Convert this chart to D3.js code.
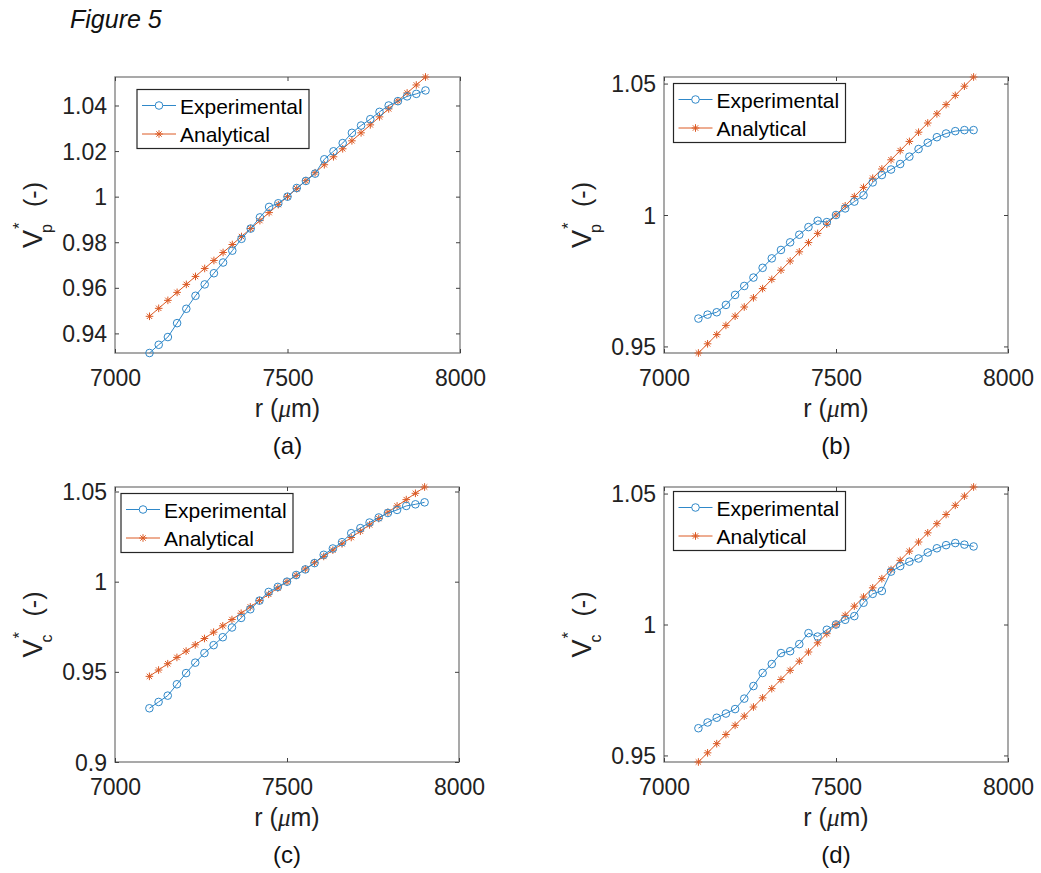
<!DOCTYPE html>
<html>
<head>
<meta charset="utf-8">
<script src="https://cdn.jsdelivr.net/npm/d3@7/dist/d3.min.js"></script>
<style>
body { margin: 0; background: #fff; }
svg { display: block; }
</style>
</head>
<body>
<div id="fig"></div>
<script>
// radial positions (um)
var rValues = [7100, 7126.7, 7153.3, 7180, 7206.7, 7233.3, 7260, 7286.7, 7313.3, 7340,
  7366.7, 7393.3, 7420, 7446.7, 7473.3, 7500, 7526.7, 7553.3, 7580, 7606.7,
  7633.3, 7660, 7686.7, 7713.3, 7740, 7766.7, 7793.3, 7820, 7846.7, 7873.3, 7900];

// analytical curve (same in all four panels)
var analytical = [0.9475, 0.9510, 0.9545, 0.9580, 0.9615, 0.9650, 0.9685, 0.9720, 0.9755, 0.9790,
  0.9825, 0.9860, 0.9895, 0.9930, 0.9965, 1.0000, 1.0035, 1.0070, 1.0105, 1.0140,
  1.0175, 1.0210, 1.0245, 1.0280, 1.0315, 1.0350, 1.0385, 1.0420, 1.0455, 1.0490, 1.0525];

// experimental curves
var expA = [0.9314, 0.9350, 0.9384, 0.9445, 0.9508, 0.9565, 0.9615, 0.9664, 0.9711, 0.9763,
  0.9815, 0.9860, 0.9909, 0.9955, 0.9971, 1.0000, 1.0038, 1.0069, 1.0101, 1.0164,
  1.0199, 1.0235, 1.0280, 1.0312, 1.0340, 1.0372, 1.0400, 1.0419, 1.0440, 1.0451, 1.0466];
var expB = [0.9606, 0.9621, 0.9630, 0.9658, 0.9696, 0.9730, 0.9762, 0.9799, 0.9835, 0.9867,
  0.9896, 0.9925, 0.9954, 0.9978, 0.9973, 1.0000, 1.0025, 1.0051, 1.0075, 1.0124,
  1.0152, 1.0173, 1.0194, 1.0222, 1.0251, 1.0275, 1.0296, 1.0310, 1.0319, 1.0323, 1.0323];
var expC = [0.9298, 0.9333, 0.9368, 0.9431, 0.9493, 0.9551, 0.9604, 0.9648, 0.9692, 0.9746,
  0.9799, 0.9847, 0.9895, 0.9943, 0.9971, 1.0000, 1.0037, 1.0068, 1.0103, 1.0149,
  1.0184, 1.0219, 1.0269, 1.0297, 1.0328, 1.0356, 1.0381, 1.0398, 1.0420, 1.0429, 1.0440];
var expD = [0.9604, 0.9626, 0.9644, 0.9660, 0.9677, 0.9717, 0.9765, 0.9815, 0.9849, 0.9891,
  0.9898, 0.9925, 0.9967, 0.9954, 0.9980, 1.0000, 1.0018, 1.0032, 1.0083, 1.0117,
  1.0128, 1.0202, 1.0223, 1.0240, 1.0252, 1.0275, 1.0291, 1.0303, 1.0311, 1.0305, 1.0298];

var xTicks = [7000, 7500, 8000];
var yTicksA = [0.94, 0.96, 0.98, 1, 1.02, 1.04];
var yTicksB = [0.95, 1, 1.05];
var yTicksC = [0.9, 0.95, 1, 1.05];
var yTicksD = [0.95, 1, 1.05];

var seriesNames = ['Experimental', 'Analytical'];

var blue = '#2f88c9';
var orange = '#dc5a24';
var font = "'Liberation Sans', Arial, Helvetica, sans-serif";

var svg = d3.select('#fig')
    .append('svg')
    .attr('width', 1041)
    .attr('height', 873);

svg.append('text')
    .attr('x', 70)
    .attr('y', 28)
    .style('font-family', font)
    .style('font-style', 'italic')
    .style('font-size', '25px')
    .attr('fill', '#111')
    .text('Figure 5');

var panels = [
  {exp: expA, yDomain: [0.9314, 1.0525], yTicks: yTicksA, sub: 'p', tag: '(a)',
   box: [115, 77, 460, 353], legend: [137, 89.5]},
  {exp: expB, yDomain: [0.9475, 1.0525], yTicks: yTicksB, sub: 'p', tag: '(b)',
   box: [664, 77, 1008, 353], legend: [673.5, 83.5]},
  {exp: expC, yDomain: [0.9, 1.0525], yTicks: yTicksC, sub: 'c', tag: '(c)',
   box: [115, 487, 459, 762], legend: [121, 493.5]},
  {exp: expD, yDomain: [0.9475, 1.0525], yTicks: yTicksD, sub: 'c', tag: '(d)',
   box: [664, 487, 1008, 762], legend: [673.5, 491.5]}
];

function asterisk(s) {
  var d = s * 0.7071;
  return 'M' + (-s) + ',0L' + s + ',0M0,' + (-s) + 'L0,' + s +
    'M' + (-d) + ',' + (-d) + 'L' + d + ',' + d + 'M' + (-d) + ',' + d + 'L' + d + ',' + (-d);
}

var fmt = function(d) { return String(+d.toFixed(3)); };

panels.forEach(function(p) {
  var x0 = p.box[0], y0 = p.box[1], x1 = p.box[2], y1 = p.box[3];
  var x = d3.scaleLinear().domain([7000, 8000]).range([x0, x1]);
  var y = d3.scaleLinear().domain(p.yDomain).range([y1, y0]);
  var g = svg.append('g');

  // box
  g.append('rect')
    .attr('x', x0).attr('y', y0)
    .attr('width', x1 - x0).attr('height', y1 - y0)
    .attr('fill', 'none')
    .attr('stroke', '#858585')
    .attr('stroke-width', 1.4);

  // axes with inward ticks
  var ax = g.append('g').attr('transform', 'translate(0,' + y1 + ')')
    .call(d3.axisBottom(x).tickValues(xTicks).tickSizeInner(-4).tickSizeOuter(0).tickFormat(fmt));
  var axt = g.append('g').attr('transform', 'translate(0,' + y0 + ')')
    .call(d3.axisTop(x).tickValues(xTicks).tickSizeInner(-4).tickSizeOuter(0).tickFormat(''));
  var ay = g.append('g').attr('transform', 'translate(' + x0 + ',0)')
    .call(d3.axisLeft(y).tickValues(p.yTicks).tickSizeInner(-4).tickSizeOuter(0).tickFormat(fmt));
  var ayr = g.append('g').attr('transform', 'translate(' + x1 + ',0)')
    .call(d3.axisRight(y).tickValues(p.yTicks).tickSizeInner(-4).tickSizeOuter(0).tickFormat(''));

  [ax, axt, ay, ayr].forEach(function(a) {
    a.select('.domain').remove();
    a.selectAll('line').attr('stroke', '#404040');
    a.selectAll('text')
      .attr('fill', '#222')
      .style('font-family', font)
      .style('font-size', '23px');
  });
  ax.selectAll('text').attr('y', 33).attr('dy', null);
  ay.selectAll('text').attr('x', -8).attr('dy', '0.35em');

  // analytical
  var line = d3.line()
    .x(function(d, i) { return x(rValues[i]); })
    .y(function(d) { return y(d); });

  g.append('path')
    .datum(analytical)
    .attr('d', line)
    .attr('fill', 'none')
    .attr('stroke', orange)
    .attr('stroke-width', 1);
  g.selectAll('.star')
    .data(analytical)
    .enter()
    .append('path')
    .attr('class', 'star')
    .attr('transform', function(d, i) { return 'translate(' + x(rValues[i]) + ',' + y(d) + ')'; })
    .attr('d', asterisk(3.8))
    .attr('stroke', orange)
    .attr('stroke-width', 1);

  // experimental
  g.append('path')
    .datum(p.exp)
    .attr('d', line)
    .attr('fill', 'none')
    .attr('stroke', blue)
    .attr('stroke-width', 1);
  g.selectAll('.circ')
    .data(p.exp)
    .enter()
    .append('circle')
    .attr('class', 'circ')
    .attr('cx', function(d, i) { return x(rValues[i]); })
    .attr('cy', function(d) { return y(d); })
    .attr('r', 3.8)
    .attr('fill', 'none')
    .attr('stroke', blue)
    .attr('stroke-width', 1);

  // x label
  var cx = (x0 + x1) / 2;
  var xl = g.append('text')
    .attr('x', cx).attr('y', y1 + 64)
    .attr('text-anchor', 'middle')
    .attr('fill', '#222')
    .style('font-family', font)
    .style('font-size', '25px');
  xl.append('tspan').text('r (');
  xl.append('tspan').style('font-family', "'Liberation Serif', 'DejaVu Serif', serif")
    .style('font-style', 'italic').text('\u03bc');
  xl.append('tspan').text('m)');

  // subplot tag
  g.append('text')
    .attr('x', cx).attr('y', y1 + 101)
    .attr('text-anchor', 'middle')
    .attr('fill', '#111')
    .style('font-family', font)
    .style('font-size', '24px')
    .text(p.tag);

  // y label  V*_p (-)
  var cy = (y0 + y1) / 2;
  var yl = g.append('g')
    .attr('transform', 'translate(' + (x0 - 73) + ',' + (cy + 33) + ') rotate(-90)')
    .attr('fill', '#222')
    .style('font-family', font);
  yl.append('text').attr('x', 0).attr('y', 0).style('font-size', '27px').text('V');
  yl.append('text').attr('x', 19).attr('y', -17).style('font-size', '17px').text('*');
  yl.append('text').attr('x', 15).attr('y', 10).style('font-size', '16px').text(p.sub);
  yl.append('text').attr('x', 41).attr('y', 0).style('font-size', '25px').text('(-)');

  // legend
  var lx = p.legend[0], ly = p.legend[1];
  var leg = g.append('g');
  leg.append('rect')
    .attr('x', lx).attr('y', ly)
    .attr('width', 172).attr('height', 59)
    .attr('fill', '#fff')
    .attr('stroke', '#262626')
    .attr('stroke-width', 1.2);
  var rows = [
    {name: seriesNames[0], color: blue, mark: 'o'},
    {name: seriesNames[1], color: orange, mark: '*'}
  ];
  rows.forEach(function(rw, k) {
    var ry = ly + 16 + k * 28.5;
    leg.append('line')
      .attr('x1', lx + 5).attr('x2', lx + 39)
      .attr('y1', ry).attr('y2', ry)
      .attr('stroke', rw.color).attr('stroke-width', 1);
    if (rw.mark === 'o') {
      leg.append('circle').attr('cx', lx + 22).attr('cy', ry).attr('r', 3.8)
        .attr('fill', '#fff').attr('stroke', rw.color).attr('stroke-width', 1);
    } else {
      leg.append('path').attr('transform', 'translate(' + (lx + 22) + ',' + ry + ')')
        .attr('d', asterisk(3.8)).attr('stroke', rw.color).attr('stroke-width', 1);
    }
    leg.append('text')
      .attr('x', lx + 43).attr('y', ry + 8)
      .attr('fill', '#000')
      .style('font-family', font)
      .style('font-size', '21px')
      .text(rw.name);
  });
});
</script>
</body>
</html>
